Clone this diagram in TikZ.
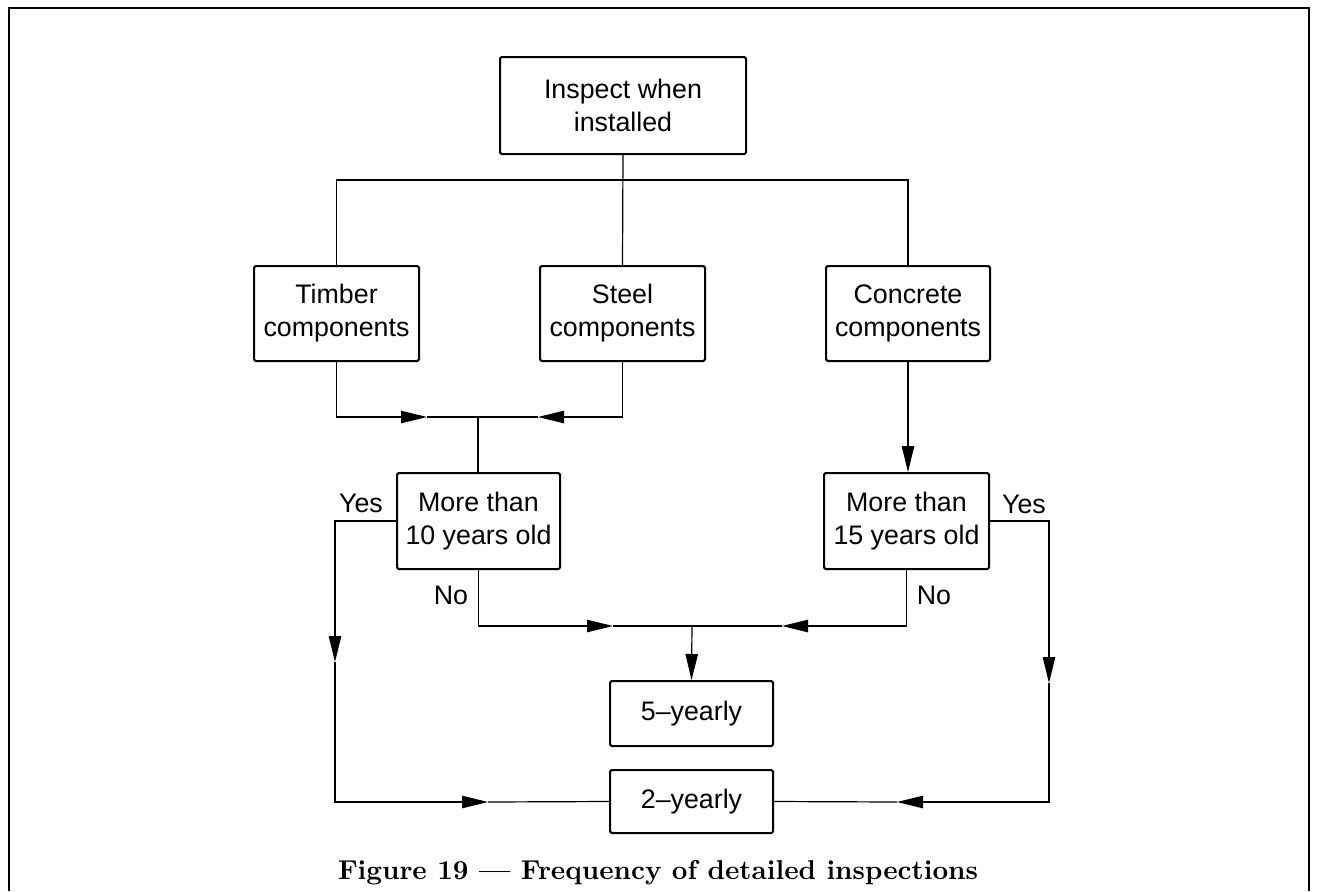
\documentclass[tikz,border=0pt]{standalone}
\usepackage{fontspec}
\setsansfont{Liberation Sans}
\usetikzlibrary{arrows.meta}
\begin{document}
\begin{tikzpicture}[x=0.5pt,y=-0.5pt,
  box/.style={draw,line width=1pt,rounded corners=0.8pt,align=center,inner sep=0pt,
    font=\sffamily\fontsize{13.4}{16.5}\selectfont},
  lbl/.style={anchor=base,inner sep=0pt,font=\sffamily\fontsize{13.4}{16.5}\selectfont},
  conn/.style={line width=0.6pt},
  arr/.style={conn,-{Triangle[length=13pt,width=6.2pt]}}]
\useasboundingbox (0,0) rectangle (1319,891);
% frame
\draw[line width=1.3pt] (9,891) -- (9,8) -- (1309,8) -- (1309,891);
% boxes
\node[box,minimum width=123pt,minimum height=48.5pt] (insp) at (623,105.5) {Inspect when\\installed};
\node[box,minimum width=82.5pt,minimum height=47.5pt] (timber) at (336.5,313.5) {Timber\\components};
\node[box,minimum width=82.5pt,minimum height=47.5pt] (steel) at (622.5,313.5) {Steel\\components};
\node[box,minimum width=82pt,minimum height=47.5pt] (concrete) at (908,313.5) {Concrete\\components};
\node[box,minimum width=81.5pt,minimum height=48pt] (old10) at (478.5,521) {More than\\10 years old};
\node[box,minimum width=82.5pt,minimum height=48pt] (old15) at (906.5,521) {More than\\15 years old};
\node[box,minimum width=81.5pt,minimum height=32.5pt] (five) at (691.5,713.5) {5--yearly};
\node[box,minimum width=81.5pt,minimum height=31.5pt] (two) at (691.5,801.5) {2--yearly};
% coordinates
\coordinate (br) at (623,180);
\coordinate (m1) at (478,417);
\coordinate (t1) at (427,417);
\coordinate (t2) at (538,417);
\coordinate (y1) at (335,662);
\coordinate (y2) at (488,802);
\coordinate (z1) at (1049,683);
\coordinate (z2) at (897,802);
\coordinate (n0) at (692,626);
\coordinate (n1) at (613,626);
\coordinate (n2) at (782,626);
% connectors
\draw[conn] (insp.south) -- (steel.north);
\draw[conn] (timber.north) |- (br) -| (concrete.north);
\draw[arr] (timber.south) |- (t1);
\draw[conn] (t1) -- (m1);
\draw[arr] (steel.south) |- (t2);
\draw[conn] (t2) -- (m1);
\draw[conn] (m1) -- (m1 |- old10.north);
\draw[arr] (concrete.south) -- (concrete.south |- old15.north);
\draw[arr] (old10.west) -| (y1);
\draw[arr] (y1) |- (y2);
\draw[conn] (y2) -- (two.west);
\draw[arr] (old15.east) -| (z1);
\draw[arr] (z1) |- (z2);
\draw[conn] (z2) -- (two.east);
\draw[arr] (old10.south) |- (n1);
\draw[conn] (n1) -- (n0);
\draw[arr] (old15.south) |- (n2);
\draw[conn] (n2) -- (n0);
\draw[arr] (n0) -- (five.north);
% labels
\node[lbl] (yesL) at (361,512) {Yes};
\node[lbl] (noL) at (451,604) {No};
\node[lbl] (yesR) at (1024,513) {Yes};
\node[lbl] (noR) at (934,604) {No};
% caption
\node[anchor=base,inner sep=0pt] (cap) at (658,879) {\resizebox{320pt}{!}{\bfseries Figure 19 --- Frequency of detailed inspections}};
\end{tikzpicture}
\end{document}
